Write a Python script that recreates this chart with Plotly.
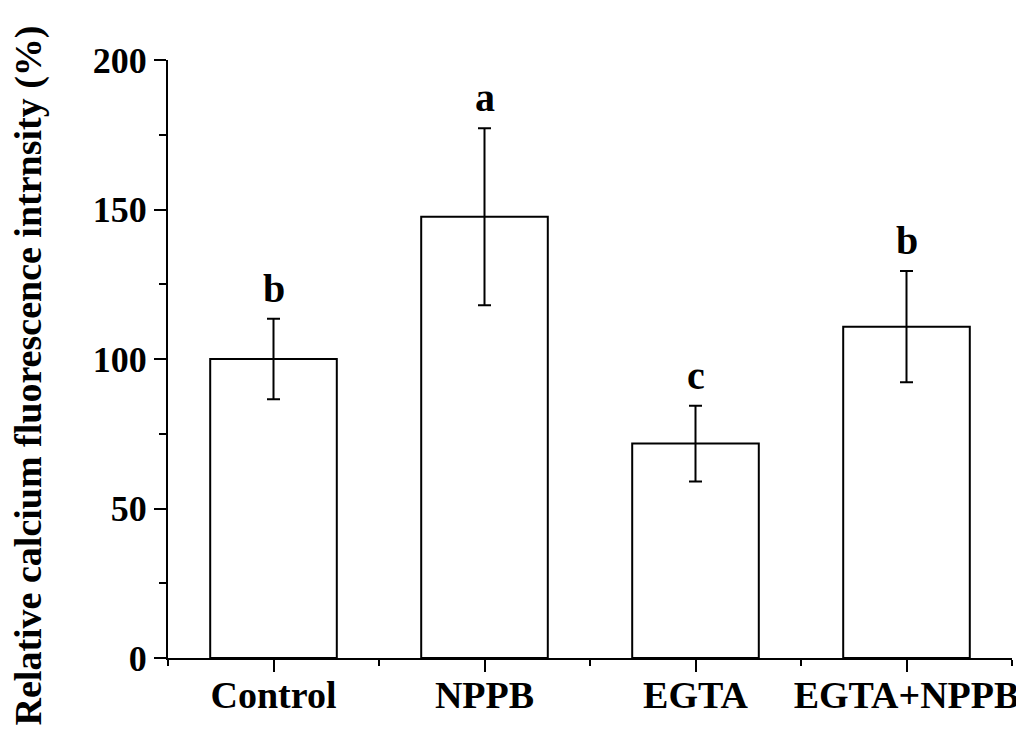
import plotly.graph_objects as go

categories = ["Control", "NPPB", "EGTA", "EGTA+NPPB"]
means = [100.0, 147.6, 71.7, 110.8]
errors = [13.5, 29.6, 12.7, 18.6]
letters = ["b", "a", "c", "b"]
y_ticks = [0, 50, 100, 150, 200]
y_title = "Relative calcium fluorescence intrnsity (%)"

FONT = "Liberation Serif"
xpos = list(range(len(categories)))

fig = go.Figure()
fig.add_trace(go.Bar(
    x=xpos, y=means, width=0.6,
    marker=dict(color="white", line=dict(color="black", width=2)),
    error_y=dict(type="data", array=errors, visible=True, color="black",
                 thickness=2, width=6.5),
    showlegend=False,
))

for xi, m, e, L in zip(xpos, means, errors, letters):
    fig.add_annotation(x=xi, y=m + e, text=L, showarrow=False,
                       yanchor="bottom", yshift=6,
                       font=dict(family=FONT, size=40, color="black", weight="bold"))

fig.add_annotation(x=-0.165, y=0.472, xref="paper", yref="paper",
                   text=y_title, textangle=-90, showarrow=False,
                   xanchor="center", yanchor="middle",
                   font=dict(family=FONT, size=38, color="black", weight="bold"))

fig.update_layout(
    width=1016, height=735,
    margin=dict(l=160, r=12, t=52, b=85, autoexpand=False),
    plot_bgcolor="white", paper_bgcolor="white",
    font=dict(family=FONT, color="black"),
)
fig.update_xaxes(
    range=[-0.5, 3.5], tickmode="array", tickvals=xpos, ticktext=categories,
    showline=True, linecolor="black", linewidth=2,
    ticks="outside", ticklen=12, tickwidth=2, tickcolor="black",
    minor=dict(ticks="outside", ticklen=6, tickwidth=2, tickcolor="black",
               tickmode="array", tickvals=[-0.5, 0.5, 1.5, 2.5, 3.5]),
    tickfont=dict(family=FONT, size=38, color="black", weight="bold"),
    ticklabelstandoff=-10,
    showgrid=False, zeroline=False, automargin=False,
)
fig.update_yaxes(
    range=[0, 200], tickmode="array", tickvals=y_ticks,
    showline=True, linecolor="black", linewidth=2,
    ticks="outside", ticklen=12, tickwidth=2, tickcolor="black",
    minor=dict(ticks="outside", ticklen=7, tickwidth=2, tickcolor="black",
               dtick=25, tick0=0),
    tickfont=dict(family=FONT, size=36, color="black", weight="bold"),
    showgrid=False, zeroline=False, automargin=False,
)

fig.write_html("out.html")
